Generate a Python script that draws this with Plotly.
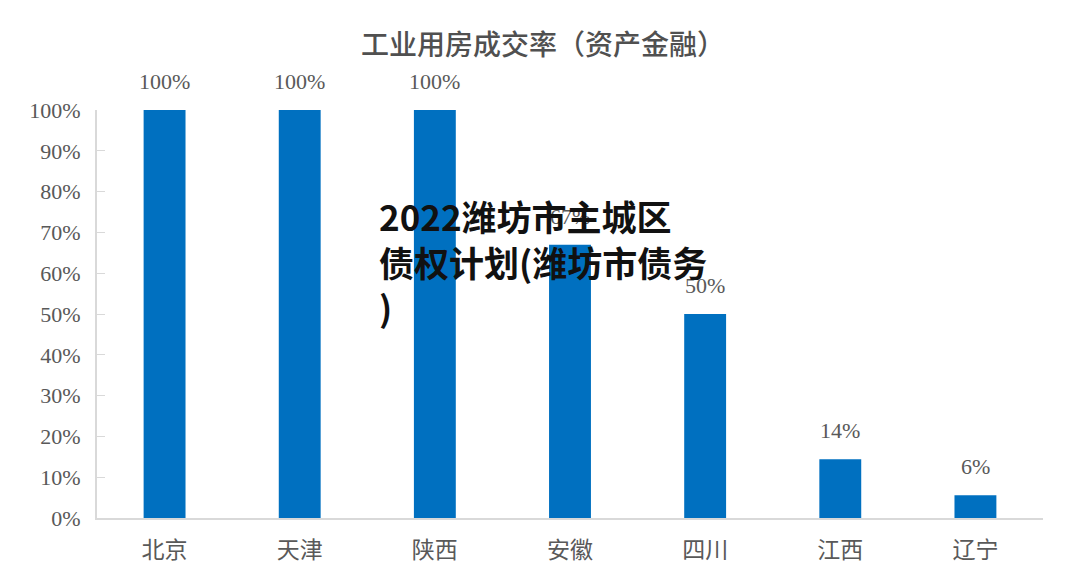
import plotly.graph_objects as go

categories = ["北京", "天津", "陕西", "安徽", "四川", "江西", "辽宁"]
values = [1.00, 1.00, 1.00, 0.67, 0.50, 0.144, 0.056]
value_labels = ["100%", "100%", "100%", "67%", "50%", "14%", "6%"]
y_tick_vals = [0, 0.1, 0.2, 0.3, 0.4, 0.5, 0.6, 0.7, 0.8, 0.9, 1.0]
y_tick_text = ["0%", "10%", "20%", "30%", "40%", "50%", "60%", "70%", "80%", "90%", "100%"]
title_text = "工业用房成交率（资产金融）"
watermark_text = "2022潍坊市主城区<br>债权计划(潍坊市债务<br>)"

GRAY = "#595959"
SERIF = "Liberation Serif, Times New Roman, serif"
SANS = "Noto Sans CJK SC, sans-serif"

fig = go.Figure()
fig.add_trace(go.Bar(
    x=categories, y=values,
    marker=dict(color="#0070C0", line=dict(width=0)),
    hoverinfo="skip",
))

annotations = []
for c, v, t in zip(categories, values, value_labels):
    annotations.append(dict(
        x=c, y=v, xref="x", yref="y", text=t, showarrow=False,
        yanchor="bottom", yshift=14,
        font=dict(family=SERIF, size=22, color=GRAY),
    ))
annotations.append(dict(
    x=0.5, y=1, xref="paper", yref="paper", text=title_text, showarrow=False,
    xanchor="center", yanchor="middle", xshift=-27, yshift=67,
    font=dict(family=SANS, size=28, color="#505050", weight=500),
))
annotations.append(dict(
    x=377, y=188, xref="paper", yref="paper", text=watermark_text, showarrow=False,
    align="left", xanchor="left", yanchor="top",
    font=dict(family=SANS, size=35, color="#111111", weight="bold"),
))

fig.update_layout(
    width=1080, height=579,
    margin=dict(l=97, r=37, t=110, b=61),
    paper_bgcolor="white", plot_bgcolor="white",
    bargap=0.69,
    showlegend=False,
    annotations=annotations,
    xaxis=dict(
        showline=True, linecolor="#d9d9d9", linewidth=2,
        ticks="", showgrid=False,
        tickfont=dict(family=SANS, size=23, color=GRAY),
        ticklabelstandoff=10,
        fixedrange=True,
    ),
    yaxis=dict(
        range=[0, 1], tickvals=y_tick_vals, ticktext=y_tick_text,
        showline=True, linecolor="#d9d9d9", linewidth=2,
        ticks="inside", ticklen=8, tickcolor="#d9d9d9", tickwidth=1,
        showgrid=False, zeroline=False,
        tickfont=dict(family=SERIF, size=22, color=GRAY),
        ticklabelstandoff=10,
        fixedrange=True,
    ),
)

# convert watermark position from pixels to paper coordinates
pw = 1080 - 97 - 37
ph = 579 - 110 - 61
wm = fig.layout.annotations[-1]
wm.x = (377 - 97) / pw
wm.y = (579 - 61 - 188) / ph

fig.write_html("out.html", config={"displayModeBar": False})
